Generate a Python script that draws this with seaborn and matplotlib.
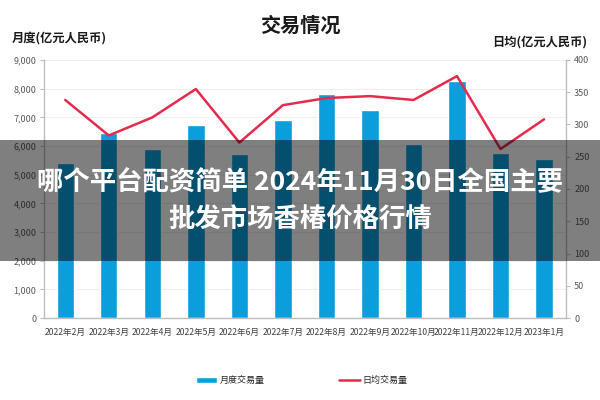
import matplotlib
matplotlib.use("Agg")
import matplotlib.pyplot as plt
import matplotlib.ticker as mticker
from matplotlib.patches import Rectangle
import seaborn as sns
import pandas as pd

months = ["2022年2月", "2022年3月", "2022年4月", "2022年5月", "2022年6月", "2022年7月",
          "2022年8月", "2022年9月", "2022年10月", "2022年11月", "2022年12月", "2023年1月"]
monthly_volume = [5410, 6470, 5900, 6750, 5720, 6900, 7830, 7240, 6080, 8260, 5740, 5530]
daily_avg = [338, 283, 311, 355, 272, 330, 341, 344, 338, 375, 262, 308]

title = "交易情况"
left_label = "月度(亿元人民币)"
right_label = "日均(亿元人民币)"
bar_name = "月度交易量"
line_name = "日均交易量"
overlay_line1 = "哪个平台配资简单 2024年11月30日全国主要"
overlay_line2 = "批发市场香椿价格行情"

sns.set_style("white")
plt.rcParams["font.family"] = ["Noto Sans CJK SC", "DejaVu Sans"]

df = pd.DataFrame({"month": months, "vol": monthly_volume, "avg": daily_avg})

BAR = "#0A9FDC"
LINE = "#E52A4C"
SPINE = "#BDBDBD"

fig = plt.figure(figsize=(6, 4), dpi=100)
ax = fig.add_axes([0.0725, 0.205, 0.8705, 0.645])

sns.barplot(data=df, x="month", y="vol", ax=ax, color=BAR, width=0.4,
            saturation=1, label=bar_name, zorder=2)
ax.set_ylim(0, 9000)
ax.set_yticks(range(0, 9001, 1000))
ax.yaxis.set_major_formatter(mticker.StrMethodFormatter("{x:,.0f}"))
ax.grid(axis="y", color="#EFEFEF", linewidth=0.8, zorder=0)
ax.set_axisbelow(True)
ax.set_xlabel("")
ax.set_ylabel("")
ax.set_xlim(-0.5, len(months) - 0.5)

ax2 = ax.twinx()
sns.lineplot(data=df, x="month", y="avg", ax=ax2, color=LINE, linewidth=1.8,
             sort=False, label=line_name, legend=False)
ax2.set_ylim(0, 400)
ax2.set_yticks(range(0, 401, 50))
ax2.set_ylabel("")
ax2.set_xlim(-0.5, len(months) - 0.5)

for a in (ax, ax2):
    a.spines["top"].set_visible(False)
    for s in ("left", "right", "bottom"):
        a.spines[s].set_color(SPINE)
        a.spines[s].set_linewidth(1.0)
ax.spines["right"].set_visible(False)
ax2.spines["left"].set_visible(False)
ax2.spines["bottom"].set_visible(False)

ax.tick_params(axis="y", labelsize=6.5, colors="#595959", length=3, width=0.8,
               direction="out", pad=2)
ax.tick_params(axis="y", color=SPINE)
ax2.tick_params(axis="y", labelsize=6.5, colors="#595959", length=3, width=0.8,
                direction="out", pad=3)
ax2.tick_params(axis="y", color=SPINE)
ax.tick_params(axis="x", which="major", labelsize=6.2, colors="#404040", length=0, pad=7)
ax.xaxis.set_minor_locator(mticker.FixedLocator([i - 0.5 for i in range(len(months) + 1)]))
ax.tick_params(axis="x", which="minor", length=3, width=0.8, color=SPINE, direction="out")

# titles
fig.text(0.5, 0.937, title, ha="center", va="center", fontsize=14.5, fontweight="bold",
         color="#1a1a1a")
fig.text(0.02, 0.905, left_label, ha="left", va="center", fontsize=8.8,
         fontweight="bold", color="#1a1a1a")
fig.text(0.978, 0.895, right_label, ha="right", va="center", fontsize=8.8,
         fontweight="bold", color="#1a1a1a")

# legend
h1, l1 = ax.get_legend_handles_labels()
h2, l2 = ax2.get_legend_handles_labels()
leg_ax = ax.get_legend()
if leg_ax is not None:
    leg_ax.remove()
fig.legend(h1 + h2, l1 + l2, loc="center", bbox_to_anchor=(0.503, 0.048), ncol=2,
           frameon=False, fontsize=6.5, columnspacing=8.3, handlelength=2.3,
           handleheight=0.6, handletextpad=0.3)

# overlay band
fig.add_artist(Rectangle((0, 0.3475), 1, 0.3025, transform=fig.transFigure,
                         facecolor="black", alpha=0.5, edgecolor="none", zorder=5))
fig.text(0.5, 0.543, overlay_line1, ha="center", va="center", fontsize=19,
         fontweight="bold", color="white", zorder=6)
fig.text(0.5, 0.45, overlay_line2, ha="center", va="center", fontsize=19,
         fontweight="bold", color="white", zorder=6)

fig.savefig("out.png", dpi=100)
